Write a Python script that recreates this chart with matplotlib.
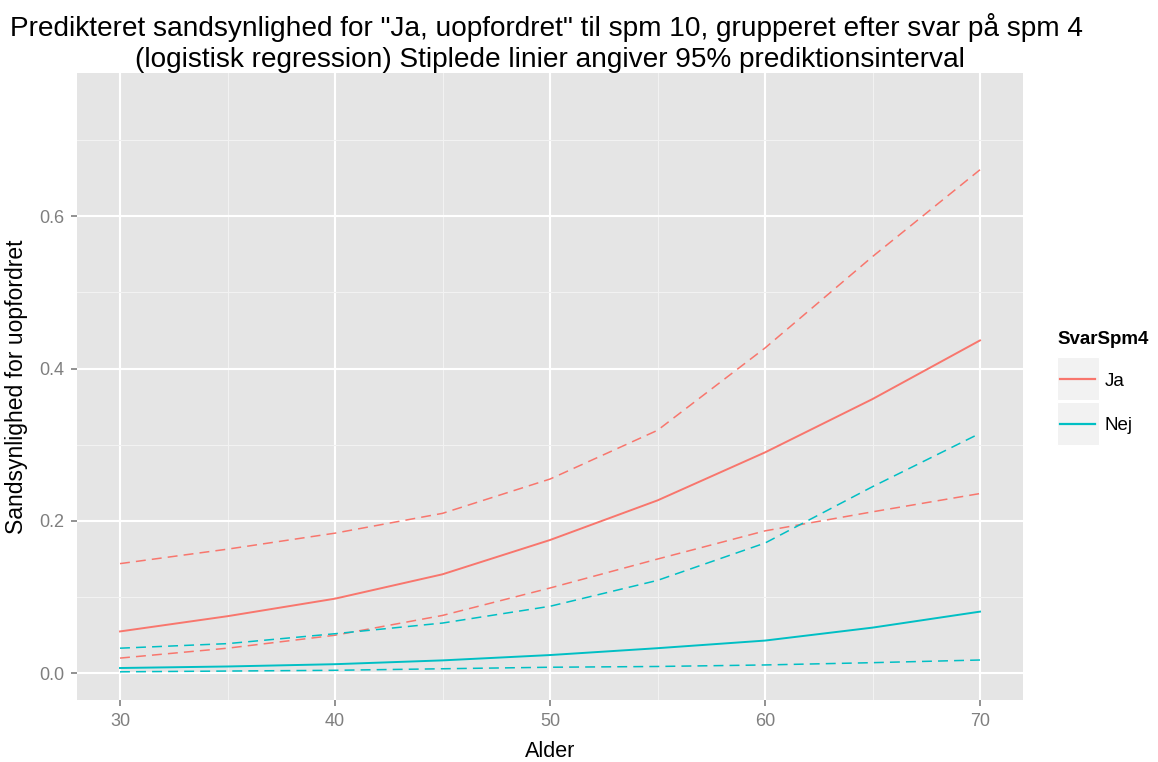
import matplotlib
matplotlib.use("Agg")
import matplotlib.pyplot as plt
from matplotlib.patches import Rectangle
from matplotlib.lines import Line2D

plt.rcParams['font.family'] = ['Liberation Sans', 'DejaVu Sans']

# predicted probabilities read every 5 years of age
alder = [30, 35, 40, 45, 50, 55, 60, 65, 70]
ja_fit = [0.055, 0.075, 0.098, 0.130, 0.175, 0.227, 0.290, 0.360, 0.437]
ja_upper = [0.144, 0.163, 0.184, 0.210, 0.255, 0.319, 0.427, 0.547, 0.661]
ja_lower = [0.020, 0.033, 0.050, 0.076, 0.112, 0.150, 0.187, 0.212, 0.236]
nej_fit = [0.007, 0.009, 0.012, 0.017, 0.024, 0.033, 0.043, 0.060, 0.081]
nej_upper = [0.033, 0.039, 0.052, 0.066, 0.088, 0.122, 0.171, 0.245, 0.315]
nej_lower = [0.002, 0.003, 0.004, 0.006, 0.008, 0.009, 0.011, 0.014, 0.0175]

grupper = ["Ja", "Nej"]
farver = ["#F8766D", "#00BFC4"]

W, H = 1158, 762
fig = plt.figure(figsize=(W / 100, H / 100), dpi=100)
ax = fig.add_axes([77 / W, 1 - 700 / H, 946 / W, 627 / H])

ax.set_facecolor("#E5E5E5")
for s in ax.spines.values():
    s.set_visible(False)

ax.set_xlim(28, 72)
ax.set_ylim(-0.035, 0.788)
ax.set_xticks([30, 40, 50, 60, 70])
ax.set_xticks([35, 45, 55, 65], minor=True)
ax.set_yticks([0.0, 0.2, 0.4, 0.6])
ax.set_yticks([0.1, 0.3, 0.5, 0.7], minor=True)
ax.set_yticklabels(["0.0", "0.2", "0.4", "0.6"])
ax.grid(which="major", color="white", linewidth=1.5)
ax.grid(which="minor", color="#F2F2F2", linewidth=0.8)
ax.set_axisbelow(True)
ax.tick_params(which="major", colors="#7F7F7F", labelcolor="#7F7F7F",
               labelsize=13, length=4, width=1.2, pad=5)
ax.tick_params(which="minor", length=0)

dash = (6.5, 4)
for fit, upper, lower, farve in [(ja_fit, ja_upper, ja_lower, farver[0]),
                                 (nej_fit, nej_upper, nej_lower, farver[1])]:
    ax.plot(alder, fit, color=farve, linewidth=1.4)
    ax.plot(alder, upper, color=farve, linewidth=1.1, dashes=dash)
    ax.plot(alder, lower, color=farve, linewidth=1.1, dashes=dash)

ax.set_xlabel("Alder", fontsize=15.5, labelpad=8)
ax.set_ylabel("Sandsynlighed for uopfordret", fontsize=16.5, labelpad=8)

fig.text(546 / W, 1 - 28 / H,
         'Predikteret sandsynlighed for "Ja, uopfordret" til spm 10, grupperet efter svar på spm 4',
         ha="center", va="center", fontsize=20.2)
fig.text(550 / W, 1 - 60 / H,
         '(logistisk regression) Stiplede linier angiver 95% prediktionsinterval',
         ha="center", va="center", fontsize=20.2)

# legend drawn by hand: grey key boxes with a line in each
fig.text(1057 / W, 1 - 340 / H, "SvarSpm4", ha="left", va="center",
         fontsize=13.5, fontweight="bold")
for i, (navn, farve) in enumerate(zip(grupper, farver)):
    top = 357 + i * 45
    fig.patches.append(Rectangle((1057 / W, 1 - (top + 43) / H), 42 / W, 43 / H,
                                 transform=fig.transFigure, facecolor="#F2F2F2",
                                 edgecolor="white", linewidth=0.8))
    yc = 1 - (top + 22) / H
    fig.lines.append(Line2D([1060 / W, 1095 / W], [yc, yc], transform=fig.transFigure,
                            color=farve, linewidth=1.6))
    fig.text(1105 / W, 1 - (top + 24) / H, navn, ha="left", va="center", fontsize=13.5)

fig.savefig("out.png", dpi=100)
